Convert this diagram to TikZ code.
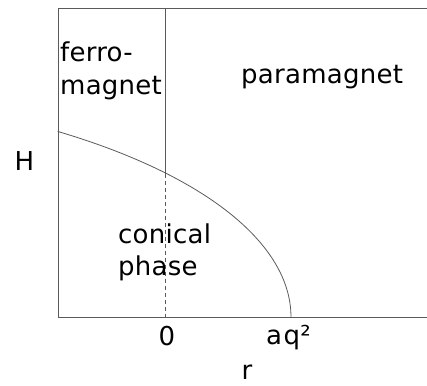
\documentclass[tikz,border=0pt]{standalone}
\usepackage{fontspec}
\setmainfont[LetterSpace=1]{DejaVu Sans}
\definecolor{linegray}{RGB}{90,90,90}
\begin{document}
\begin{tikzpicture}[x=1pt,y=-1pt,
  frame/.style={draw=linegray,line width=1pt},
  lbl/.style={inner sep=0pt,font=\fontsize{26}{30}\selectfont,text=black}]
\useasboundingbox (0,0) rectangle (427,385);
\coordinate (tl) at (58.5,9);
\coordinate (tr) at (427,9);
\coordinate (bl) at (58.5,317);
\coordinate (br) at (427,317);
\coordinate (zt) at (165,9);
\coordinate (zb) at (165,317);
\coordinate (zm) at (165,173.5);
\draw[frame] (tr) -- (tl) -- (bl) -- (br);
\draw[frame] (zt) -- (zm);
\draw[frame,line width=0.8pt,dash pattern=on 4pt off 3pt] (zm) -- (zb);
\draw[frame,line width=0.8pt] plot[domain=0:53.8,samples=80,smooth] ({-279+570*cos(\x)},{317-230*sin(\x)});
\node[lbl,anchor=base west] (ferro) at (60,62) {ferro-};
\node[lbl,anchor=base west] (magnet) at (60,94.5) {magnet};
\node[lbl,anchor=base west] (para) at (241,83) {paramagnet};
\node[lbl,anchor=base west] (H) at (14.5,170) {H};
\node[lbl,anchor=base west] (conical) at (118,243.5) {conical};
\node[lbl,anchor=base west] (phase) at (118,275) {phase};
\node[lbl,anchor=base west] (zero) at (158.5,345) {0};
\node[lbl,anchor=base west] (aq) at (266,344) {a\kern1.5pt q²};
\node[lbl,anchor=base west] (r) at (241.5,379.5) {r};
\end{tikzpicture}
\end{document}
